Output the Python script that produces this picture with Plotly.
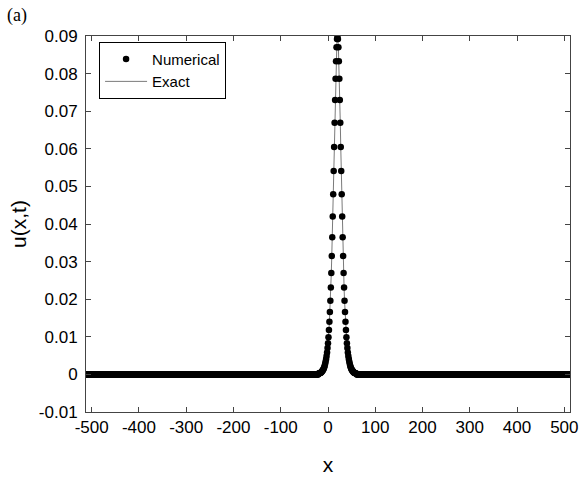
import numpy as np
import plotly.graph_objects as go

# Spatial grid of the computation
x_min, x_max = -512, 512
x_grid = np.arange(x_min, x_max + 1)

# Solitary-wave profile around its crest (x = -20 ... 60, step 1); zero elsewhere
x_peak_start = -20
u_peak = [
    0.0002, 0.0003, 0.0003, 0.0004, 0.0004, 0.0005, 0.0006, 0.0008, 0.0009, 0.0011,
    0.0013, 0.0016, 0.0019, 0.0023, 0.0028, 0.0034, 0.0041, 0.0049, 0.0058, 0.0070,
    0.0083, 0.0099, 0.0118, 0.0140, 0.0166, 0.0196, 0.0231, 0.0270, 0.0315, 0.0365,
    0.0420, 0.0479, 0.0541, 0.0605, 0.0669, 0.0730, 0.0786, 0.0833, 0.0870, 0.0892,
    0.0900,
    0.0892, 0.0870, 0.0833, 0.0786, 0.0730, 0.0669, 0.0605, 0.0541, 0.0479, 0.0420,
    0.0365, 0.0315, 0.0270, 0.0231, 0.0196, 0.0166, 0.0140, 0.0118, 0.0099, 0.0083,
    0.0070, 0.0058, 0.0049, 0.0041, 0.0034, 0.0028, 0.0023, 0.0019, 0.0016, 0.0013,
    0.0011, 0.0009, 0.0008, 0.0006, 0.0005, 0.0004, 0.0004, 0.0003, 0.0003, 0.0002,
]

u_numerical = np.zeros(len(x_grid))
i0 = x_peak_start - x_min
u_numerical[i0:i0 + len(u_peak)] = u_peak
u_exact = u_numerical.copy()

x_ticks = [-500, -400, -300, -200, -100, 0, 100, 200, 300, 400, 500]
x_tick_text = ["-500", "-400", "-300", "-200", "-100", "0", "100", "200", "300", "400", "500"]
y_ticks = [-0.01, 0, 0.01, 0.02, 0.03, 0.04, 0.05, 0.06, 0.07, 0.08, 0.09]
y_tick_text = ["-0.01", "0", "0.01", "0.02", "0.03", "0.04", "0.05", "0.06", "0.07", "0.08", "0.09"]

font_family = "Liberation Sans, Arial, sans-serif"

fig = go.Figure()
fig.add_trace(go.Scatter(
    x=x_grid, y=u_exact, mode="lines", name="Exact",
    line=dict(color="#7a7a7a", width=1), legendrank=2,
))
fig.add_trace(go.Scatter(
    x=x_grid, y=u_numerical, mode="markers", name="Numerical",
    marker=dict(color="black", size=6.5, line=dict(width=0)), legendrank=1,
))

axis_common = dict(
    showline=True, linecolor="#444444", linewidth=1, mirror="ticks",
    ticks="inside", ticklen=5, tickcolor="#444444",
    showgrid=False, zeroline=False, ticklabeloverflow="allow",
    tickfont=dict(family=font_family, size=17, color="black"),
)

fig.update_xaxes(
    range=[x_min, x_max], tickvals=x_ticks, ticktext=x_tick_text,
    title=dict(text="x", font=dict(family=font_family, size=21, color="black"), standoff=20),
    **axis_common,
)
fig.update_yaxes(
    range=[-0.01, 0.09], tickvals=y_ticks, ticktext=y_tick_text,
    ticklabelstandoff=4,
    title=dict(text="u(x,t)", font=dict(family=font_family, size=21, color="black"), standoff=6),
    **axis_common,
)

fig.update_layout(
    width=585, height=479,
    margin=dict(l=86, r=7, t=36, b=66),
    paper_bgcolor="white", plot_bgcolor="white",
    showlegend=True,
    legend=dict(
        x=0.027, y=0.985, xanchor="left", yanchor="top",
        bordercolor="black", borderwidth=1, bgcolor="white",
        font=dict(family=font_family, size=15, color="black"),
        itemwidth=42, tracegroupgap=0,
    ),
)

# Panel label in the top-left corner of the page
fig.add_annotation(
    x=-82 / 492, y=1 + 21 / 377, xref="paper", yref="paper",
    xanchor="left", yanchor="middle", showarrow=False, text="(a)",
    font=dict(family="Liberation Serif, Times New Roman, serif", size=18, color="black"),
)

fig.write_html("out.html")
